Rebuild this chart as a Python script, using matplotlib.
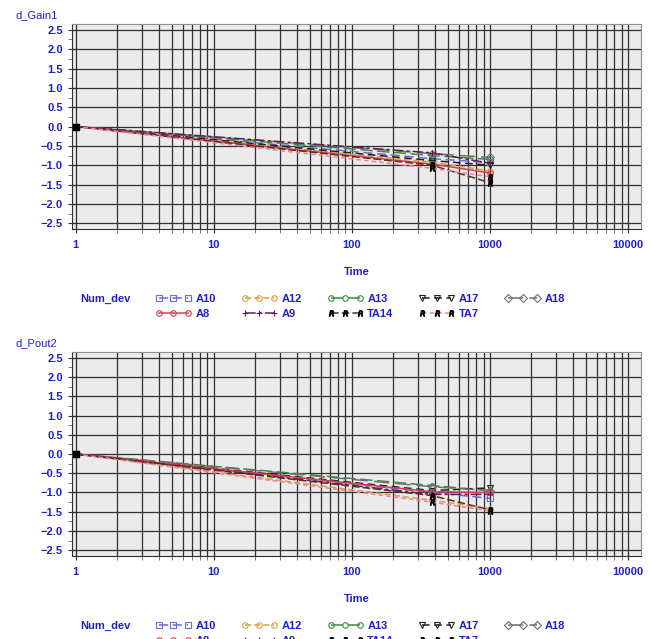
import numpy as np
import matplotlib.pyplot as plt
from matplotlib.ticker import FixedLocator, MultipleLocator, FuncFormatter, LogLocator, NullFormatter

# data
times = [1, 380, 1000]
devices = ['A10', 'A12', 'A13', 'A17', 'A18', 'A8', 'A9', 'TA14', 'TA7']
gain1 = {
    'A10': [0, -0.83, -0.93],
    'A12': [0, -0.92, -1.15],
    'A13': [0, -0.75, -0.85],
    'A17': [0, -0.88, -1.00],
    'A18': [0, -0.70, -0.80],
    'A8': [0, -0.97, -1.20],
    'A9': [0, -0.68, -0.95],
    'TA14': [0, -1.00, -1.45],
    'TA7': [0, -1.08, -1.30],
}
pout2 = {
    'A10': [0, -1.00, -1.15],
    'A12': [0, -1.20, -1.42],
    'A13': [0, -0.82, -0.95],
    'A17': [0, -0.95, -0.88],
    'A18': [0, -0.85, -0.95],
    'A8': [0, -0.98, -1.00],
    'A9': [0, -1.05, -1.05],
    'TA14': [0, -1.08, -1.45],
    'TA7': [0, -1.25, -1.48],
}
xticks = [1, 10, 100, 1000, 10000]

# styles
sty = {
    'A10': dict(color='#6a6ad8', marker='s', ls=(0, (6, 3))),
    'A12': dict(color='#d8a040', marker='o', ls=(0, (4, 2))),
    'A13': dict(color='#3c8c3c', marker='o', ls=(0, (8, 3))),
    'A17': dict(color='#202020', marker='v', ls=(0, (5, 3))),
    'A18': dict(color='#707070', marker='D', ls=(0, (10, 4))),
    'A8': dict(color='#d84050', marker='o', ls='-'),
    'A9': dict(color='#6a1a5a', marker='+', ls=(0, (7, 2, 2, 2))),
    'TA14': dict(color='#5a3020', marker='$R$', ls=(0, (5, 2))),
    'TA7': dict(color='#f080a0', marker='$R$', ls=(0, (3, 2))),
}
blue = '#2020c8'
plt.rcParams['font.family'] = ['Liberation Sans', 'DejaVu Sans']

fig = plt.figure(figsize=(6.5, 6.39), dpi=100)
panels = [
    ('d_Gain1', gain1, [0.1108, 0.6416, 0.875, 0.3208]),
    ('d_Pout2', pout2, [0.1108, 0.1299, 0.875, 0.3192]),
]

for name, vals, rect in panels:
    ax = fig.add_axes(rect)
    ax.set_facecolor('#ebebeb')
    handles = {}
    for d in devices:
        s = sty[d]
        mfc = 'none' if s['marker'] in ('s', 'o', 'v', 'D') else s['color']
        mec = '#000000' if d in ('TA14', 'TA7') else s['color']
        h, = ax.plot(times, vals[d], color=s['color'], ls=s['ls'], lw=1.1,
                     marker=s['marker'], ms=4, mfc=mfc, mec=mec, mew=0.8)
        handles[d] = h
    ax.plot([1], [0], marker='s', color='black', ms=4)
    ax.set_xscale('log')
    ax.set_xlim(0.94, 12400)
    ax.set_ylim(-2.65, 2.65)
    ax.xaxis.set_major_locator(FixedLocator(xticks))
    ax.xaxis.set_major_formatter(FuncFormatter(lambda v, p: f"{v:.0f}"))
    ax.xaxis.set_minor_locator(LogLocator(base=10, subs=np.arange(2, 10)))
    ax.xaxis.set_minor_formatter(NullFormatter())
    ax.yaxis.set_major_locator(MultipleLocator(0.5))
    ax.yaxis.set_minor_locator(MultipleLocator(0.25))
    ax.grid(True, which='major', color='#303030', lw=0.9)
    ax.grid(True, which='minor', axis='x', color='#303030', lw=0.9)
    ax.set_axisbelow(True)
    ax.tick_params(axis='both', which='major', direction='inout', length=6, color='#303030',
                   labelcolor=blue, labelsize=8)
    ax.tick_params(axis='both', which='minor', direction='out', length=3, color='#606060')
    ax.tick_params(axis='x', pad=5)
    for lab in ax.get_xticklabels() + ax.get_yticklabels():
        lab.set_fontweight('bold')
    for sp in ax.spines.values():
        sp.set_color('#909090')
    ax.spines['left'].set_color('#303030')
    ax.spines['bottom'].set_color('#303030')
    ax.set_xlabel('Time', color=blue, fontsize=8, fontweight='bold', labelpad=12)
    ax.text(-0.1, 1.02, name, transform=ax.transAxes, color=blue, fontsize=8,
            ha='left', va='bottom')

    # legend under each panel
    order = ['A10', 'A8', 'A12', 'A9', 'A13', 'TA14', 'A17', 'TA7', 'A18']
    lx0 = rect[0] + 0.113
    ly0 = rect[1] - 0.1315
    leg = fig.legend([handles[d] for d in order], order, ncol=5, loc='upper left',
                     bbox_to_anchor=(lx0, ly0 + 0.045), frameon=False, fontsize=8,
                     numpoints=3, handlelength=3.2, handletextpad=0.4,
                     columnspacing=2.3, labelspacing=0.45, labelcolor=blue)
    for t in leg.get_texts():
        t.set_fontweight('bold')
    fig.text(rect[0] + 0.012, ly0 + 0.03, 'Num_dev', color=blue, fontsize=8,
             fontweight='bold', va='top')

fig.savefig('out.png', dpi=100)
